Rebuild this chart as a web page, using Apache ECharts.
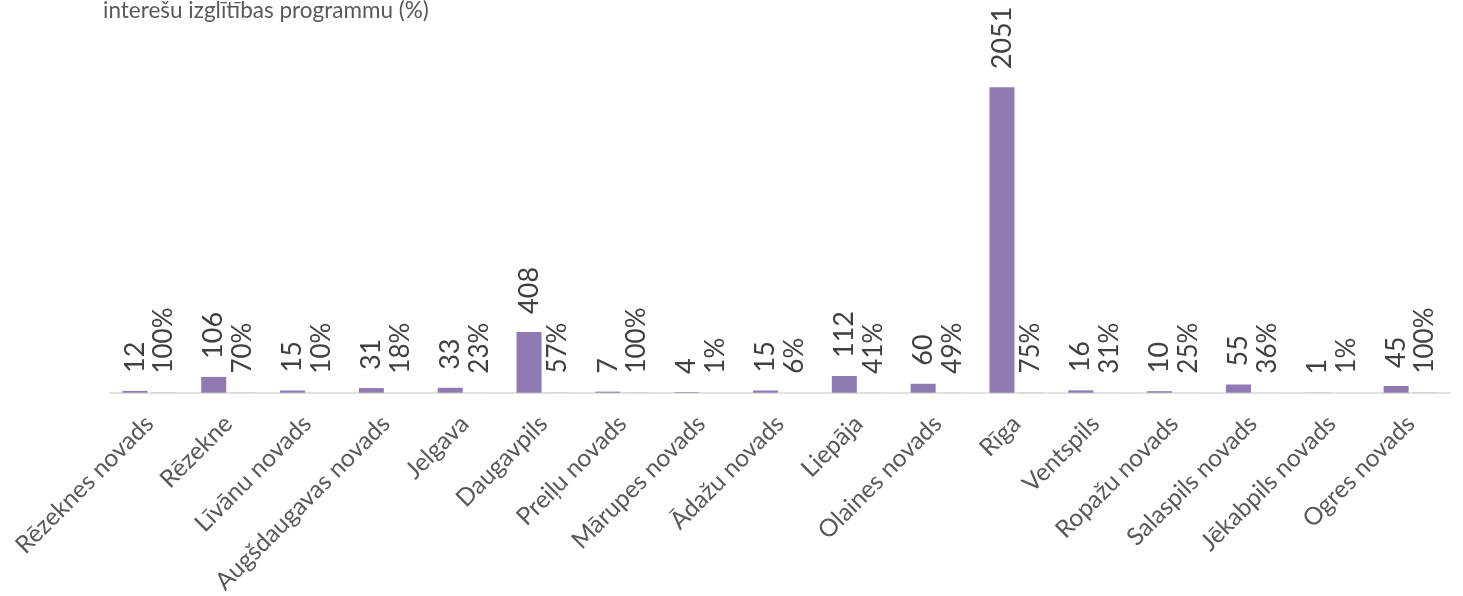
<!DOCTYPE html>
<html>
<head>
<meta charset="utf-8">
<script src="https://cdn.jsdelivr.net/npm/echarts@6/dist/echarts.min.js"></script>
<style>
html,body{margin:0;padding:0;background:#fff;}
#chart{width:1463px;height:596px;}
</style>
</head>
<body>
<div id="chart"></div>
<script>
const categories = ["Rēzeknes novads","Rēzekne","Līvānu novads","Augšdaugavas novads","Jelgava","Daugavpils","Preiļu novads","Mārupes novads","Ādažu novads","Liepāja","Olaines novads","Rīga","Ventspils","Ropažu novads","Salaspils novads","Jēkabpils novads","Ogres novads"];
const counts = [12,106,15,31,33,408,7,4,15,112,60,2051,16,10,55,1,45];
const shares = [1.00,0.70,0.10,0.18,0.23,0.57,1.00,0.01,0.06,0.41,0.49,0.75,0.31,0.25,0.36,0.01,1.00];
const titleText = "interešu izglītības programmu (%)";

const FONT = "Lato";
const chart = echarts.init(document.getElementById('chart'));
chart.setOption({
  animation:false,
  backgroundColor:'#fff',
  title:{text:titleText,left:98,top:-6,textStyle:{fontFamily:FONT,fontSize:22.5,fontWeight:'normal',color:'#595959'}},
  grid:{left:110,right:13,top:20.4,bottom:203.3,containLabel:false,outerBoundsMode:'none'},
  xAxis:{type:'category',data:categories,
    axisLine:{lineStyle:{color:'#d9d9d9',width:1.5}},
    axisTick:{show:false},
    axisLabel:{interval:0,rotate:45,margin:27,fontFamily:FONT,fontSize:24.5,color:'#595959'}},
  yAxis:{type:'value',min:0,max:2500,show:false,splitLine:{show:false}},
  series:[
    {type:'bar',data:counts,barWidth:25,barGap:'16%',
     itemStyle:{color:'#8f7ab1'},
     label:{show:true,position:'top',rotate:90,align:'left',verticalAlign:'middle',distance:18,
       fontFamily:FONT,fontSize:27,color:'#404040'}},
    {type:'bar',data:shares,barWidth:25,
     itemStyle:{color:'#8f7ab1'},
     label:{show:true,position:'top',rotate:90,align:'left',verticalAlign:'middle',distance:19,
       fontFamily:FONT,fontSize:26,color:'#404040',
       formatter:p=>Math.round(p.value*100)+'%'}}
  ]
});
</script>
</body>
</html>
